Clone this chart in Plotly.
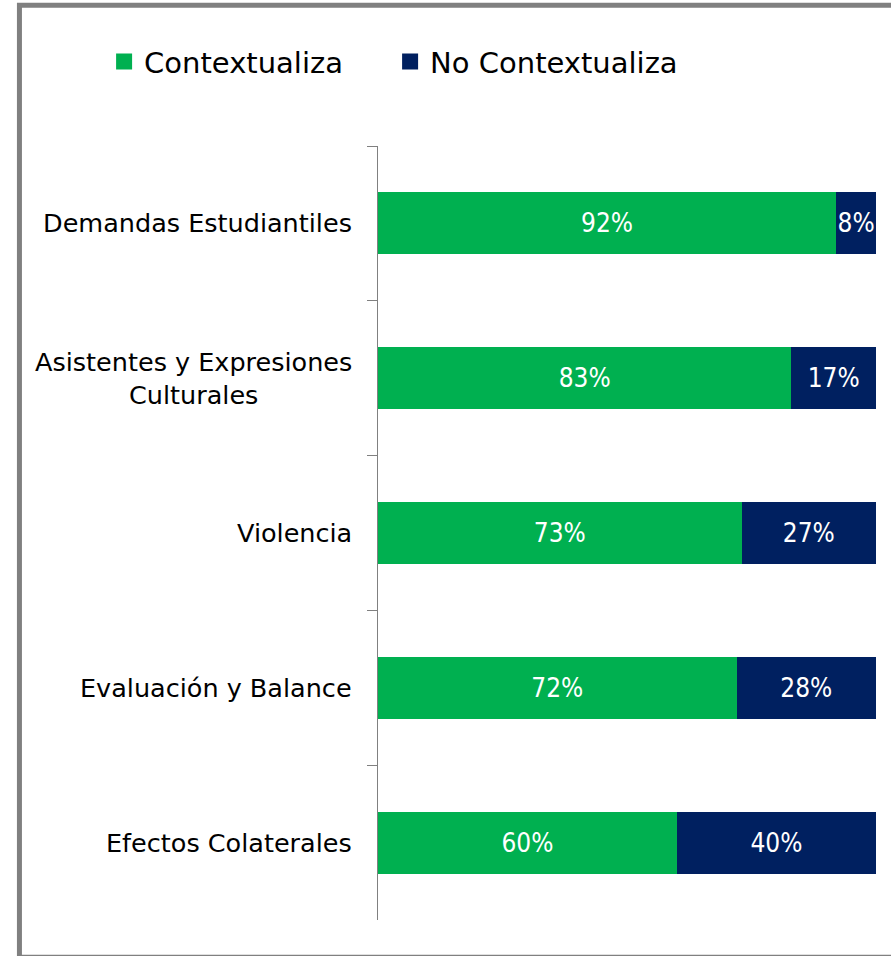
import plotly.graph_objects as go

categories = ["Demandas Estudiantiles", "Asistentes y Expresiones<br>Culturales",
              "Violencia", "Evaluación y Balance", "Efectos Colaterales"]
contextualiza = [92, 83, 73, 72, 60]
no_contextualiza = [8, 17, 27, 28, 40]
series_names = ["Contextualiza", "No Contextualiza"]
colors = ["#00B050", "#002060"]

cat_font = "DejaVu Sans, Tahoma, sans-serif"
num_font = "DejaVu Sans Condensed, sans-serif"

fig = go.Figure()
for name, vals, col in zip(series_names, [contextualiza, no_contextualiza], colors):
    fig.add_trace(go.Bar(
        y=categories, x=vals, orientation="h", name=name,
        marker=dict(color=col, line=dict(width=0)),
        text=[f"{v}%" for v in vals], textposition="inside", textangle=0,
        insidetextanchor="middle", constraintext="none",
        textfont=dict(family=num_font, size=26, color="white"),
        width=0.4, showlegend=False, cliponaxis=False,
    ))
    fig.add_trace(go.Scatter(
        x=[None], y=[None], mode="markers", name=name,
        marker=dict(symbol="square", size=16, color=col),
    ))

for c in categories:
    fig.add_annotation(
        x=0, xref="paper", y=c, yref="y", text=c, showarrow=False,
        xanchor="right", xshift=-24, align="center",
        font=dict(family=cat_font, size=25.5, color="black"),
    )

# outer frame
fig.add_shape(type="rect", xref="paper", yref="paper",
              x0=-0.72, x1=1.2, y0=-0.048, y1=1.182,
              line=dict(color="#808080", width=5), layer="below")

fig.update_layout(
    width=891, height=956,
    margin=dict(l=378, r=15, t=146, b=36),
    paper_bgcolor="white", plot_bgcolor="white",
    barmode="stack",
    showlegend=True,
    legend=dict(orientation="h", x=-0.55, xanchor="left", y=1.109, yanchor="middle",
                traceorder="normal",
                font=dict(family=cat_font, size=29, color="black"),
                itemwidth=30, entrywidth=241, entrywidthmode="pixels",
                bgcolor="rgba(0,0,0,0)"),
    xaxis=dict(range=[0, 100], visible=False, fixedrange=True),
    yaxis=dict(type="category", autorange="reversed", showline=True,
               linecolor="#808080", linewidth=1, ticks="outside", tickson="boundaries",
               ticklen=10, tickcolor="#808080", showticklabels=False,
               showgrid=False, zeroline=False),
)

fig.write_html("out.html", config={"displayModeBar": False},
               post_script="document.body.style.margin='0';")
